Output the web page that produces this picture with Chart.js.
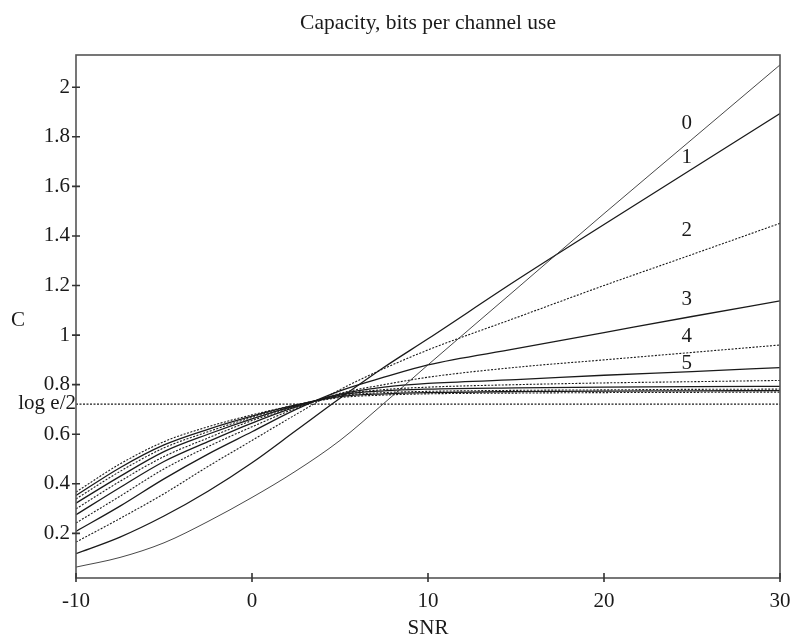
<!DOCTYPE html>
<html>
<head>
<meta charset="utf-8">
<script src="https://cdn.jsdelivr.net/npm/chart.js@4.4.1/dist/chart.umd.min.js"></script>
<style>
  html, body { margin: 0; padding: 0; background: #fff; }
  #wrap { width: 790px; height: 639px; }
</style>
</head>
<body>
<div id="wrap"><canvas id="cap" width="790" height="639"></canvas></div>
<script>
// ---- data ----
const snr = [-10, -7.5, -5, -2.5, 0, 2.5, 5, 7.5, 10, 15, 20, 25, 30];

const c0  = [0.064, 0.103, 0.162, 0.248, 0.345, 0.452, 0.575, 0.725, 0.880, 1.185, 1.490, 1.790, 2.090];
const c1  = [0.118, 0.185, 0.270, 0.370, 0.485, 0.615, 0.745, 0.870, 0.985, 1.220, 1.446, 1.670, 1.894];
const c2  = [0.165, 0.260, 0.360, 0.470, 0.575, 0.680, 0.780, 0.865, 0.940, 1.070, 1.200, 1.325, 1.451];
const c3  = [0.208, 0.310, 0.420, 0.520, 0.610, 0.700, 0.775, 0.830, 0.880, 0.945, 1.010, 1.075, 1.138];
const c4  = [0.242, 0.350, 0.460, 0.550, 0.630, 0.705, 0.765, 0.800, 0.830, 0.870, 0.900, 0.930, 0.960];
const c5  = [0.275, 0.385, 0.490, 0.570, 0.645, 0.710, 0.762, 0.790, 0.805, 0.820, 0.838, 0.853, 0.869];
const c6  = [0.299, 0.410, 0.510, 0.585, 0.655, 0.712, 0.760, 0.780, 0.790, 0.800, 0.807, 0.812, 0.817];
const c7  = [0.322, 0.430, 0.530, 0.600, 0.662, 0.715, 0.758, 0.775, 0.782, 0.787, 0.790, 0.792, 0.793];
const c8  = [0.339, 0.450, 0.545, 0.610, 0.668, 0.717, 0.755, 0.768, 0.773, 0.777, 0.779, 0.781, 0.782];
const c9  = [0.353, 0.465, 0.557, 0.620, 0.673, 0.718, 0.752, 0.763, 0.768, 0.772, 0.774, 0.775, 0.776];
const c10 = [0.367, 0.480, 0.570, 0.630, 0.678, 0.718, 0.748, 0.758, 0.763, 0.766, 0.768, 0.769, 0.770];

const curves = [c0, c1, c2, c3, c4, c5, c6, c7, c8, c9, c10];

const LOG_E_HALF = 0.7213;                 // log2(e)/2
const xTicks = [-10, 0, 10, 20, 30];
const yTicks = [0.2, 0.4, 0.6, 0.8, 1, 1.2, 1.4, 1.6, 1.8, 2];

// curve labels "0".."5" (text, placed in data units)
const curveLabels = ['0', '1', '2', '3', '4', '5'];
const curveLabelX = [24.7, 24.7, 24.7, 24.7, 24.7, 24.7];
const curveLabelY = [1.854, 1.717, 1.421, 1.142, 0.994, 0.887];

const SERIF = '"Liberation Serif", "DejaVu Serif", serif';
const INK = '#1a1a1a';
const AXIS = '#555';
const FS = 21;

// ---- datasets ----
const datasets = curves.map((vals, k) => ({
  label: String(k),
  data: snr.map((x, i) => ({ x, y: vals[i] })),
  borderColor: k === 0 ? '#333' : INK,
  borderWidth: k === 0 ? 0.9 : (k % 2 ? 1.3 : 1.1),
  borderDash: (k % 2 === 0 && k > 0) ? [2, 1.5] : [],
  pointRadius: 0,
  fill: false,
  cubicInterpolationMode: 'monotone',
}));
datasets.push({
  label: 'log e/2',
  data: [{ x: snr[0], y: LOG_E_HALF }, { x: snr[snr.length - 1], y: LOG_E_HALF }],
  borderColor: INK, borderWidth: 1.1, borderDash: [2, 1.5],
  pointRadius: 0, fill: false,
});

// title, box, crossing tick marks, "C", "log e/2" and the curve numbers
const decor = {
  id: 'decor',
  beforeDraw(chart) {
    const { ctx } = chart;
    ctx.save();
    ctx.fillStyle = '#fff';
    ctx.fillRect(0, 0, chart.width, chart.height);
    ctx.restore();
  },
  afterDraw(chart) {
    const { ctx, chartArea: a, scales: { x, y } } = chart;
    ctx.save();
    ctx.strokeStyle = AXIS;
    ctx.lineWidth = 1.6;
    ctx.strokeRect(a.left, a.top, a.right - a.left, a.bottom - a.top);
    ctx.strokeStyle = '#333';
    ctx.beginPath();
    xTicks.forEach((v) => {
      const px = x.getPixelForValue(v);
      ctx.moveTo(px, a.bottom - 5); ctx.lineTo(px, a.bottom + 4);
    });
    yTicks.forEach((v) => {
      const py = y.getPixelForValue(v);
      ctx.moveTo(a.left - 4, py); ctx.lineTo(a.left + 4, py);
    });
    ctx.stroke();

    ctx.fillStyle = INK;
    ctx.textBaseline = 'middle';
    ctx.textAlign = 'center';
    ctx.font = '21.5px ' + SERIF;
    ctx.fillText('Capacity, bits per channel use', (a.left + a.right) / 2, 23);

    ctx.font = FS + 'px ' + SERIF;
    ctx.fillText('C', 18, y.getPixelForValue(1.06));
    curveLabels.forEach((t, i) => {
      ctx.fillText(t, x.getPixelForValue(curveLabelX[i]), y.getPixelForValue(curveLabelY[i]));
    });
    ctx.textAlign = 'right';
    ctx.fillText('log e/2', a.left, y.getPixelForValue(LOG_E_HALF) - 1);
    ctx.restore();
  },
};

new Chart(document.getElementById('cap').getContext('2d'), {
  type: 'line',
  data: { datasets },
  plugins: [decor],
  options: {
    responsive: false, animation: false, devicePixelRatio: 1,
    layout: { padding: { left: 0, right: 10, top: 55, bottom: 0 } },
    plugins: {
      legend: { display: false },
      tooltip: { enabled: false },
      title: { display: false },
    },
    scales: {
      x: {
        type: 'linear', min: -10, max: 30,
        afterBuildTicks: (s) => { s.ticks = xTicks.map((v) => ({ value: v })); },
        afterFit: (s) => { s.height = 61; s.paddingLeft = 0; s.paddingRight = 0; },
        grid: { display: false, drawTicks: false },
        border: { display: false },
        ticks: { color: INK, font: { family: SERIF, size: FS }, padding: 11, maxRotation: 0,
                 callback: (v) => String(v) },
        title: { display: true, text: 'SNR', color: INK, font: { family: SERIF, size: FS },
                 padding: { top: 0, bottom: -2 } },
      },
      y: {
        type: 'linear', min: 0.02, max: 2.13,
        afterBuildTicks: (s) => { s.ticks = yTicks.map((v) => ({ value: v })); },
        afterFit: (s) => { s.width = 76; s.paddingTop = 0; s.paddingBottom = 0; },
        grid: { display: false, drawTicks: false },
        border: { display: false },
        ticks: { color: INK, font: { family: SERIF, size: FS }, padding: 6,
                 callback: (v) => (Number.isInteger(v) ? String(v) : v.toFixed(1)) },
      },
    },
  },
});
</script>
</body>
</html>
